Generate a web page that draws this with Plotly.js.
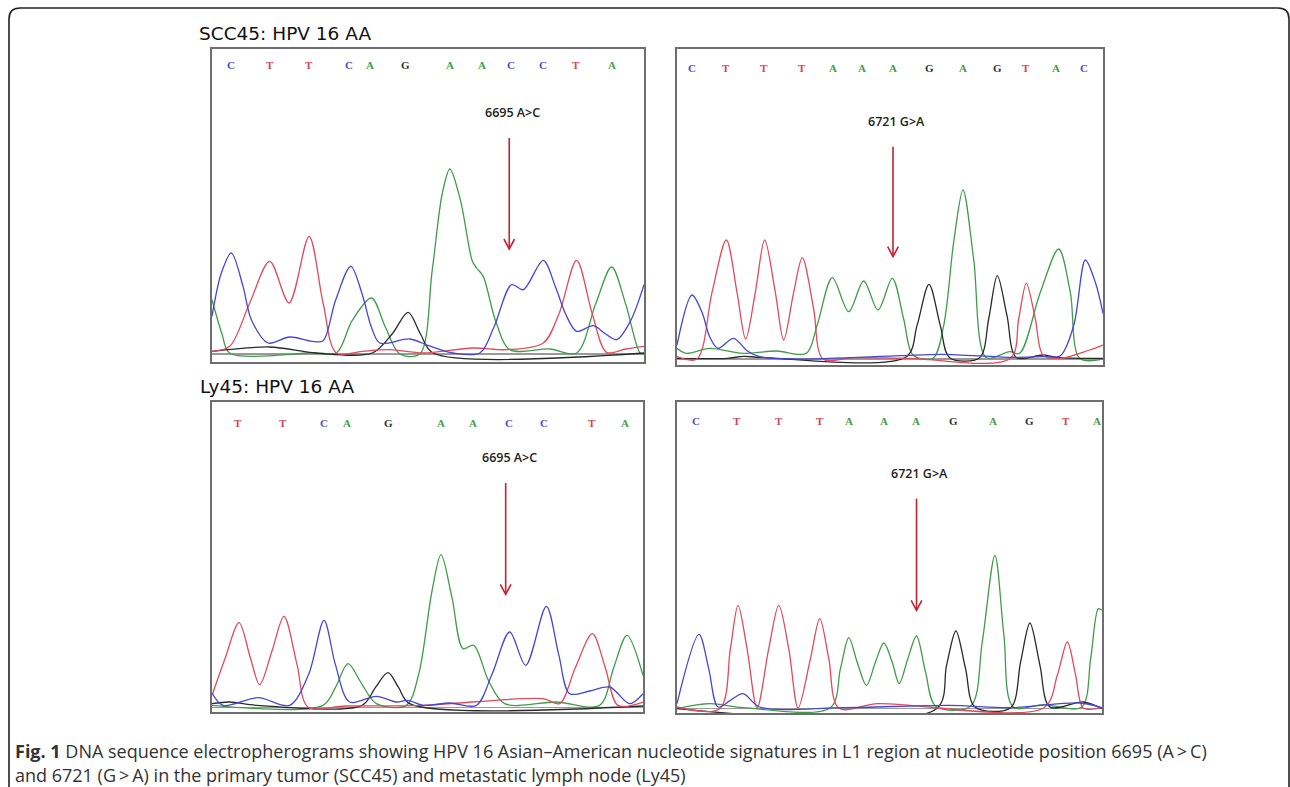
<!DOCTYPE html>
<html>
<head>
<meta charset="utf-8">
<script src="https://cdn.plot.ly/plotly-3.0.1.min.js"></script>
<style>
  html, body { margin: 0; padding: 0; background: #fff; }
  #chart { width: 1290px; height: 787px; }
</style>
</head>
<body>
<div id="chart"></div>
<script>
// ---------- DATA (x = scan position, y = signal) ----------
// Panel 1: SCC45, 6695 region
const scc45_a_bases = ['C','T','T','C','A','G','A','A','C','C','T','A'];
const scc45_a_basePos = [58,173,290,411,474,580,712,809,895,993,1091,1198];
const scc45_a_C = [[0,113],[28,243],[58,303],[93,203],[118,103],[168,33],[233,51],[300,38],[333,40],[370,160],[416,263],[450,180],[478,80],[503,33],[593,45],[650,25],[723,3],[803,3],[845,80],[898,208],[933,193],[993,281],[1030,200],[1060,120],[1093,68],[1143,85],[1180,60],[1213,43],[1255,100],[1295,208]];
const scc45_a_T = [[0,8],[53,23],[113,153],[173,278],[231,153],[291,353],[333,153],[373,3],[450,8],[533,13],[633,3],[783,18],[883,13],[993,33],[1040,120],[1093,281],[1140,120],[1183,5],[1240,15],[1295,23]];
const scc45_a_A = [[0,163],[30,60],[53,3],[300,3],[373,3],[420,100],[478,168],[520,80],[563,0],[623,0],[660,250],[690,480],[713,555],[745,460],[780,280],[793,258],[813,233],[850,100],[893,13],[1013,15],[1093,3],[1150,150],[1198,261],[1240,150],[1283,3],[1295,0]];
const scc45_a_G = [[0,8],[173,21],[313,3],[480,3],[540,60],[588,125],[625,60],[663,3],[1295,3]];

// Panel 2: SCC45, 6721 region
const scc45_b_bases = ['C','T','T','T','A','A','A','G','A','G','T','A','C'];
const scc45_b_basePos = [45,148,260,376,468,555,648,756,858,960,1046,1138,1221];
const scc45_b_C = [[0,42],[45,192],[75,140],[98,67],[123,32],[170,62],[210,25],[248,7],[348,0],[668,10],[798,14],[1000,5],[1098,7],[1150,10],[1190,100],[1225,297],[1255,230],[1278,137]];
const scc45_b_T = [[0,7],[60,0],[105,200],[148,357],[180,200],[206,60],[235,200],[263,357],[295,200],[320,57],[350,200],[376,304],[410,150],[438,0],[528,4],[700,2],[1000,2],[1025,120],[1048,227],[1075,120],[1098,12],[1148,2],[1238,27],[1278,42]];
const scc45_b_A = [[0,32],[28,17],[98,32],[198,17],[298,24],[388,17],[420,100],[466,244],[515,142],[560,234],[603,147],[646,242],[680,120],[708,12],[768,2],[800,100],[830,350],[858,507],[890,300],[928,4],[998,22],[1028,17],[1090,200],[1145,330],[1180,200],[1208,2],[1278,0]];
const scc45_b_G = [[0,2],[150,2],[200,8],[250,5],[688,7],[720,100],[756,224],[790,100],[818,4],[908,4],[935,120],[961,250],[990,130],[1018,4],[1098,12],[1148,4],[1278,2]];

// Panel 3: Ly45, 6695 region
const ly45_a_bases = ['T','T','C','A','G','A','A','C','C','T','A'];
const ly45_a_basePos = [78,213,336,406,530,687,783,890,995,1141,1238];
const ly45_a_C = [[0,44],[33,7],[138,30],[233,7],[290,100],[336,262],[370,130],[413,17],[493,34],[553,17],[588,22],[633,7],[713,14],[793,7],[840,100],[893,227],[941,127],[1003,304],[1040,160],[1073,42],[1133,50],[1193,62],[1253,12],[1293,42]];
const ly45_a_T = [[0,37],[40,150],[81,255],[115,150],[143,69],[180,170],[216,274],[255,130],[288,2],[400,5],[633,7],[993,27],[1043,12],[1090,120],[1141,222],[1180,120],[1218,7],[1293,17]];
const ly45_a_A = [[0,7],[333,7],[370,60],[408,132],[450,70],[493,12],[583,7],[620,100],[660,350],[687,459],[720,330],[753,177],[785,187],[830,80],[878,12],[1033,17],[1163,7],[1205,120],[1245,217],[1293,97]];
const ly45_a_G = [[0,12],[53,17],[133,7],[450,7],[490,60],[528,105],[560,60],[593,12],[1293,5]];

// Panel 4: Ly45, 6721 region
const ly45_b_bases = ['C','T','T','T','A','A','A','G','A','G','T','A'];
const ly45_b_basePos = [58,181,305,428,515,621,716,828,946,1058,1165,1260];
const ly45_b_C = [[0,15],[66,223],[95,120],[123,5],[160,25],[198,45],[248,5],[500,3],[818,10],[1000,3],[1208,17],[1274,3]];
const ly45_b_T = [[0,5],[128,0],[160,180],[183,310],[210,180],[240,2],[275,180],[305,310],[335,180],[363,2],[400,150],[428,270],[455,150],[485,2],[603,15],[1100,3],[1140,100],[1170,200],[1195,100],[1218,2],[1274,3]];
const ly45_b_A = [[0,0],[98,15],[200,3],[460,3],[490,120],[515,213],[540,140],[568,70],[595,140],[620,197],[645,140],[666,75],[692,150],[718,218],[745,110],[776,7],[880,7],[915,200],[953,460],[980,220],[1008,5],[1098,12],[1213,5],[1240,150],[1263,300],[1274,295]];
const ly45_b_G = [[0,0],[778,0],[808,130],[836,233],[865,120],[893,5],[1000,3],[1030,140],[1058,257],[1088,130],[1118,5],[1218,20],[1274,0]];

// Mutation labels and arrows
const mutLabels = ['6695 A>C', '6721 G>A', '6695 A>C', '6721 G>A'];
const mutLabelX = [900, 658, 891, 728];
const mutLabelY = [726, 714, 750, 705];
const arrowX = [891, 648, 881, 718];
const arrowTop = [648, 637, 674, 630];
const arrowTip = [315, 307, 340, 295];

const panelTitles = ['SCC45: HPV 16 AA', 'Ly45: HPV 16 AA'];
const captionLine1 = '<b>Fig. 1</b> DNA sequence electropherograms showing HPV 16 Asian–American nucleotide signatures in L1 region at nucleotide position 6695 (A\u2009>\u2009C)';
const captionLine2 = 'and 6721 (G\u2009>\u2009A) in the primary tumor (SCC45) and metastatic lymph node (Ly45)';

// ---------- LAYOUT HELPERS ----------
const W = 1290, H = 787;
const px = v => v / W;
const py = v => 1 - v / H;

const chColor = { C: '#4646d6', T: '#e24a5e', A: '#3f9d4a', G: '#2a2a2a' };
const letterColor = { C: '#4a4ad0', T: '#d24658', A: '#3e9e48', G: '#333333' };

const panels = [
  { ax: '', box: [212, 49, 644, 362], xr: [0, 1295], yr: [-24, 915], letterY: 868,
    bases: scc45_a_bases, pos: scc45_a_basePos, ch: { A: scc45_a_A, G: scc45_a_G, T: scc45_a_T, C: scc45_a_C } },
  { ax: '2', box: [677, 49, 1103, 365], xr: [0, 1278], yr: [-18, 930], letterY: 872,
    bases: scc45_b_bases, pos: scc45_b_basePos, ch: { A: scc45_b_A, G: scc45_b_G, T: scc45_b_T, C: scc45_b_C } },
  { ax: '3', box: [212, 402, 643, 712], xr: [0, 1293], yr: [-13, 917], letterY: 854,
    bases: ly45_a_bases, pos: ly45_a_basePos, ch: { A: ly45_a_A, G: ly45_a_G, T: ly45_a_T, C: ly45_a_C } },
  { ax: '4', box: [677, 402, 1102, 713], xr: [0, 1274], yr: [-13, 920], letterY: 862,
    bases: ly45_b_bases, pos: ly45_b_basePos, ch: { A: ly45_b_A, G: ly45_b_G, T: ly45_b_T, C: ly45_b_C } }
];

const traces = [];
const annotations = [];
const shapes = [];
const layout = {
  width: W, height: H,
  margin: { l: 0, r: 0, t: 0, b: 0 },
  paper_bgcolor: '#ffffff', plot_bgcolor: '#ffffff',
  showlegend: false,
  font: { family: 'DejaVu Sans', color: '#222' }
};

panels.forEach((p, i) => {
  const xa = 'x' + p.ax, ya = 'y' + p.ax;
  ['A', 'G', 'T', 'C'].forEach(b => {
    const pts = p.ch[b];
    traces.push({
      type: 'scatter', mode: 'lines', xaxis: xa, yaxis: ya,
      x: pts.map(d => d[0]), y: pts.map(d => d[1]),
      line: { color: chColor[b], width: 1.3, shape: 'spline', smoothing: 0.9 },
      hoverinfo: 'skip'
    });
  });
  const [l, t, r, bt] = p.box;
  const axBase = { showgrid: false, showticklabels: false, ticks: '', showline: true, mirror: true,
                   linecolor: '#6e6e6e', linewidth: 2, fixedrange: true };
  layout['xaxis' + p.ax] = Object.assign({}, axBase, { domain: [px(l), px(r)], range: p.xr, zeroline: false, anchor: ya });
  layout['yaxis' + p.ax] = Object.assign({}, axBase, { domain: [py(bt), py(t)], range: p.yr, zeroline: true,
                   zerolinecolor: '#9a9a9a', zerolinewidth: 1.5, anchor: xa });
  // base calls
  p.bases.forEach((b, k) => {
    annotations.push({ xref: xa, yref: ya, x: p.pos[k], y: p.letterY, text: '<b>' + b + '</b>', showarrow: false,
      font: { family: 'Liberation Serif', size: 11, color: letterColor[b] }, xanchor: 'center', yanchor: 'middle' });
  });
  // mutation label
  annotations.push({ xref: xa, yref: ya, x: mutLabelX[i], y: mutLabelY[i], text: mutLabels[i].replace('>', '&gt;'),
    showarrow: false, font: { family: 'Open Sans', size: 12.5, weight: 600, color: '#222' }, xanchor: 'center', yanchor: 'middle' });
  // arrow
  const ax = arrowX[i], y0 = arrowTop[i], y1 = arrowTip[i];
  shapes.push({ type: 'line', xref: xa, yref: ya, x0: ax, x1: ax, y0: y0, y1: y1, line: { color: '#c8202e', width: 1.6 } });
  shapes.push({ type: 'path', xref: xa, yref: ya,
    path: `M ${ax - 16},${y1 + 30} L ${ax},${y1} L ${ax + 16},${y1 + 30}`, line: { color: '#c8202e', width: 1.6 } });
});

// panel titles
annotations.push({ xref: 'paper', yref: 'paper', x: px(197), y: py(34), text: panelTitles[0], showarrow: false,
  xanchor: 'left', yanchor: 'middle', font: { family: 'DejaVu Sans', size: 18.5, color: '#111' } });
annotations.push({ xref: 'paper', yref: 'paper', x: px(198), y: py(386), text: panelTitles[1], showarrow: false,
  xanchor: 'left', yanchor: 'middle', font: { family: 'DejaVu Sans', size: 18.5, color: '#111' } });

// caption
annotations.push({ xref: 'paper', yref: 'paper', x: px(13), y: py(751), text: captionLine1, showarrow: false,
  xanchor: 'left', yanchor: 'middle', font: { family: 'Open Sans', size: 18, color: '#333' } });
annotations.push({ xref: 'paper', yref: 'paper', x: px(13), y: py(775), text: captionLine2, showarrow: false,
  xanchor: 'left', yanchor: 'middle', font: { family: 'Open Sans', size: 18, color: '#333' } });

// outer rounded frame
const fx0 = px(9), fx1 = px(1289), fy0 = py(8), fyB = py(800);
const rx = px(11), ry = 11 / H;
shapes.push({ type: 'path', xref: 'paper', yref: 'paper',
  path: `M ${fx0},${fyB} L ${fx0},${fy0 - ry} Q ${fx0},${fy0} ${fx0 + rx},${fy0} L ${fx1 - rx},${fy0} Q ${fx1},${fy0} ${fx1},${fy0 - ry} L ${fx1},${fyB}`,
  line: { color: '#222', width: 1.6 } });

layout.annotations = annotations;
layout.shapes = shapes;

Plotly.newPlot('chart', traces, layout, { displayModeBar: false, staticPlot: true });
</script>
</body>
</html>
